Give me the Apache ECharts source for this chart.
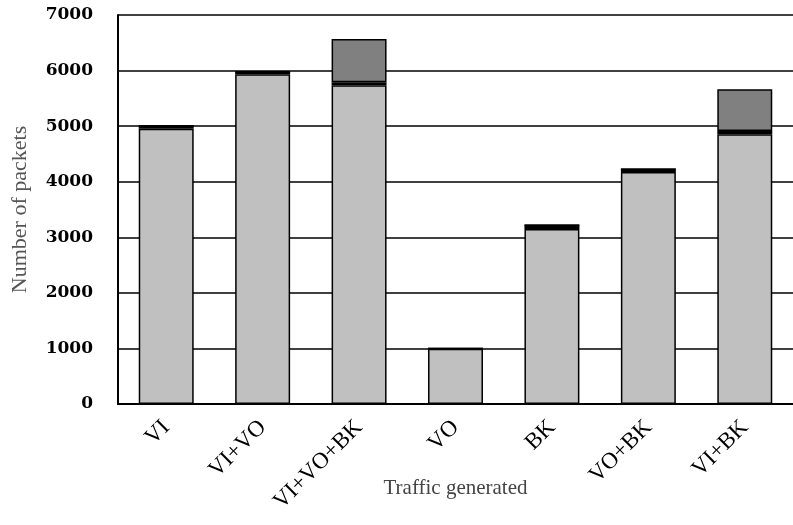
<!DOCTYPE html>
<html>
<head>
<meta charset="utf-8">
<script src="https://cdn.jsdelivr.net/npm/echarts@6/dist/echarts.min.js"></script>
<style>html,body{margin:0;padding:0;background:#fff}#c{width:793px;height:525px}</style>
</head>
<body>
<div id="c"></div>
<script>
const categories = ['VI', 'VI+VO', 'VI+VO+BK', 'VO', 'BK', 'VO+BK', 'VI+BK'];
const baseValues = [4955, 5935, 5737, 995, 3150, 4173, 4856];
const blackValues = [50, 45, 55, 5, 70, 55, 55];
const topValues = [0, 0, 774, 0, 0, 0, 755];
const yTicks = [0, 1000, 2000, 3000, 4000, 5000, 6000, 7000];

const serif = '"Liberation Serif", "DejaVu Serif", serif';
const chart = echarts.init(document.getElementById('c'), null, {renderer: 'canvas'});
const barW = '57%';
const border = {borderColor: '#000', borderWidth: 1.5};
chart.setOption({
  animation: false,
  backgroundColor: '#fff',
  grid: {left: 118, right: 0, top: 15, bottom: 121, containLabel: false, outerBoundsMode: 'none'},
  xAxis: {
    type: 'category',
    data: categories,
    name: 'Traffic generated',
    nameLocation: 'middle',
    nameGap: 74,
    nameMoveOverlap: false,
    nameTextStyle: {fontFamily: serif, fontSize: 21, color: '#444'},
    axisLine: {lineStyle: {color: '#000', width: 2}},
    axisTick: {show: false},
    axisLabel: {rotate: 45, fontFamily: serif, fontSize: 23, color: '#000', margin: 20, interval: 0}
  },
  yAxis: {
    type: 'value',
    min: yTicks[0],
    max: yTicks[yTicks.length - 1],
    interval: 1000,
    name: 'Number of packets',
    nameLocation: 'middle',
    nameGap: 87,
    nameMoveOverlap: false,
    nameTextStyle: {fontFamily: serif, fontSize: 22, color: '#555'},
    axisLine: {show: true, lineStyle: {color: '#000', width: 2}},
    axisTick: {show: false},
    axisLabel: {fontFamily: '"DejaVu Serif", serif', fontSize: 17, fontWeight: 'bold', color: '#000', margin: 25,
      formatter: v => String(v)},
    splitLine: {lineStyle: {color: '#000', width: 1.5}}
  },
  series: [
    {type: 'bar', stack: 's', data: baseValues, barWidth: barW, itemStyle: Object.assign({color: '#c0c0c0'}, border)},
    {type: 'bar', stack: 's', data: blackValues, barWidth: barW, itemStyle: Object.assign({color: '#000'}, border)},
    {type: 'bar', stack: 's', data: topValues, barWidth: barW, itemStyle: Object.assign({color: '#808080'}, border)}
  ]
});
</script>
</body>
</html>
